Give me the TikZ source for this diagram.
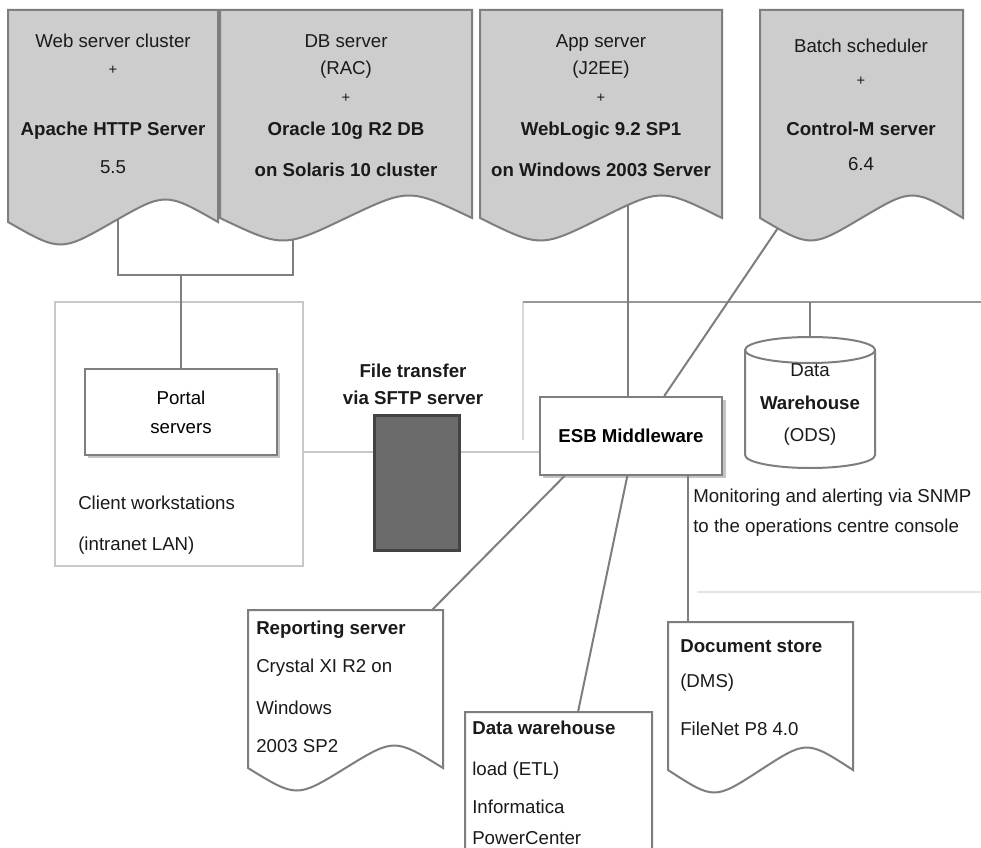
\documentclass[tikz,border=0pt]{standalone}
\usepackage{fontspec}
\setmainfont{Liberation Sans}
\usetikzlibrary{positioning,calc,shadows}
\definecolor{dgInk}     {HTML}{1A1A1A}
\definecolor{dgEdge}    {HTML}{7E7E7E}
\definecolor{dgPaper}   {HTML}{CDCDCD}
\definecolor{dgRack}    {HTML}{6B6B6B}
\definecolor{dgRackEdge}{HTML}{434343}
\definecolor{dgFaint}   {HTML}{C8C8C8}
\definecolor{dgShade}   {HTML}{C4C4C4}

% document sheet with a wavy foot
\newcommand{\wavedoc}[5]{%
  \pgfmathsetmacro{\wdMid}{(#1+#3)/2}%
  \pgfmathsetmacro{\wdLeft}{#1+(#3-#1)/4}%
  \pgfmathsetmacro{\wdRight}{#1+3*(#3-#1)/4}%
  \draw[docedge,fill=#5] (#1,#2) -- (#3,#2) -- (#3,#4)
    .. controls (\wdRight,#4-30) .. (\wdMid,#4)
    .. controls (\wdLeft,#4+30) .. (#1,#4) -- cycle;
}

\begin{document}
\begin{tikzpicture}[x=0.75pt,y=-0.75pt,
    txt/.style={font=\fontsize{14}{16}\selectfont,inner sep=0,text height=10pt,text depth=3pt,text=dgInk},
    txtb/.style={txt,font=\fontsize{14}{16}\selectfont\bfseries},
    txts/.style={txt,font=\fontsize{11}{13}\selectfont},
    docedge/.style={draw=dgEdge,line width=1.5pt},
    wire/.style={draw=dgEdge,line width=1.5pt},
    feed/.style={draw=dgFaint,line width=1.5pt},
    zone/.style={draw=dgFaint,line width=1.5pt,fill=white,minimum width=186pt,minimum height=198pt,inner sep=0},
    shadowbox/.style={draw=dgEdge,line width=1.5pt,fill=white,inner sep=0,
      drop shadow={shadow xshift=2.5pt,shadow yshift=-2.5pt,fill=dgShade,opacity=1}},
    rack/.style={draw=dgRackEdge,fill=dgRack,line width=2pt,inner sep=0,minimum width=63.75pt,minimum height=101.25pt}]

  \fill[white] (0,0) rectangle (981,848);
  \useasboundingbox (0,0) rectangle (981,848);

  % faint frame lines
  \coordinate (busw) at (523,302);
  \coordinate (buse) at (981,302);
  \coordinate (railw) at (697,592);
  \coordinate (raile) at (981,592);
  \draw[feed,draw=dgFaint!70] (busw) -- (523,440);
  \draw[feed,draw=dgFaint!50] (railw) -- (raile);
  \draw[wire,draw=dgEdge!80] (busw) -- (buse);

  % containers and boxes
  \node[zone] (lan) at (179,434) {};
  \node[shadowbox,minimum width=144pt,minimum height=64pt,align=center,
        font=\fontsize{14}{22}\selectfont] (portal) at (181,412) {Portal\\servers};
  \node[rack] (rack) at (417,483) {};
  \node[shadowbox,minimum width=137pt,minimum height=58.5pt,
        font=\fontsize{14}{16}\selectfont\bfseries] (esb) at (631,436) {ESB Middleware};
  \node[inner sep=0,minimum width=97.5pt,minimum height=97.5pt] (dwh) at (810,402) {};

  % connector ends
  \coordinate (d1foot) at (118,205);
  \coordinate (d2foot) at (293,205);
  \coordinate (join)   at (181,275);
  \coordinate (d3foot) at (628,200);
  \coordinate (d4foot) at (782,222);
  \coordinate (feedrow) at (0,452);
  \coordinate (b1tap) at (432,610);
  \coordinate (b2tap) at (578,712);
  \coordinate (b3tap) at (688,622);

  % connectors
  \draw[wire] (d1foot) |- (join) -| (d2foot);
  \draw[wire] (join) -- (portal.north);
  \draw[feed] (lan.east |- feedrow) -- (rack.west |- feedrow);
  \draw[feed] (rack.east |- feedrow) -- (esb.west |- feedrow);
  \draw[wire] (d3foot) -- (d3foot |- esb.north);
  \draw[wire] (d4foot) -- ($(esb.north west)!0.68!(esb.north east)$);
  \draw[wire] (dwh.north) -- (dwh.north |- busw);
  \draw[wire] ($(esb.south west)!0.14!(esb.south east)$) -- (b1tap);
  \draw[wire] ($(esb.south west)!0.48!(esb.south east)$) -- (b2tap);
  \draw[wire] (esb.south -| b3tap) -- (b3tap);

  % sheets
  \wavedoc{8}{10}{218}{222}{dgPaper}
  \wavedoc{220}{10}{472}{218}{dgPaper}
  \wavedoc{480}{10}{722}{218}{dgPaper}
  \wavedoc{760}{10}{963}{218}{dgPaper}
  \wavedoc{248}{610}{443}{768}{white}
  \wavedoc{465}{712}{652}{880}{white}
  \wavedoc{668}{622}{853}{770}{white}

  % data store
  \draw[docedge,fill=white] (745,350) -- (745,455)
    arc[start angle=180,end angle=0,x radius=65,y radius=13] -- (875,350)
    arc[start angle=0,end angle=-180,x radius=65,y radius=13] -- cycle;
  \draw[docedge] (745,350) arc[start angle=180,end angle=0,x radius=65,y radius=13];

  % top sheets text
  \node[txt] (d1a) at (113,43) {Web server cluster};
  \node[txts,below=7pt of d1a] (d1b) {+};
  \node[txtb,below=32pt of d1b] (d1c) {Apache HTTP Server};
  \node[txt,below=15pt of d1c] (d1d) {5.5};

  \node[txt] (d2a) at (346,43) {DB server};
  \node[txt,below=7pt of d2a] (d2b) {(RAC)};
  \node[txts,below=7pt of d2b] (d2c) {+};
  \node[txtb,below=12pt of d2c] (d2d) {Oracle 10g R2 DB};
  \node[txtb,below=17pt of d2d] (d2e) {on Solaris 10 cluster};

  \node[txt] (d3a) at (601,43) {App server};
  \node[txt,below=7pt of d3a] (d3b) {(J2EE)};
  \node[txts,below=7pt of d3b] (d3c) {+};
  \node[txtb,below=12pt of d3c] (d3d) {WebLogic 9.2 SP1};
  \node[txtb,below=17pt of d3d] (d3e) {on Windows 2003 Server};

  \node[txt] (d4a) at (861,48) {Batch scheduler};
  \node[txts,below=11pt of d4a] (d4b) {+};
  \node[txtb,below=24pt of d4b] (d4c) {Control-M server};
  \node[txt,below=13pt of d4c] (d4d) {6.4};

  % middle text
  \node[txt,anchor=west] (lan1) at (78,505) {Client workstations};
  \node[txt,below=17pt of lan1.south west,anchor=north west] (lan2) {(intranet LAN)};
  \node[txtb] (rk1) at (413,373) {File transfer};
  \node[txtb,below=7pt of rk1] (rk2) {via SFTP server};
  \node[txt] (dw1) at (810,372) {Data};
  \node[txtb,below=11pt of dw1] (dw2) {Warehouse};
  \node[txt,below=11pt of dw2] (dw3) {(ODS)};
  \node[txt,anchor=west] (mon1) at (693,498) {Monitoring and alerting via SNMP};
  \node[txt,below=9pt of mon1.south west,anchor=north west] (mon2) {to the operations centre console};

  % bottom sheets text
  \node[txtb,anchor=west] (b1a) at (256,630) {Reporting server};
  \node[txt,below=15pt of b1a.south west,anchor=north west] (b1b) {Crystal XI R2 on};
  \node[txt,below=18pt of b1b.south west,anchor=north west] (b1c) {Windows};
  \node[txt,below=15pt of b1c.south west,anchor=north west] (b1d) {2003 SP2};

  \node[txtb,anchor=west] (b2a) at (472,730) {Data warehouse};
  \node[txt,below=17pt of b2a.south west,anchor=north west] (b2b) {load (ETL)};
  \node[txt,below=15pt of b2b.south west,anchor=north west] (b2c) {Informatica};
  \node[txt,below=10pt of b2c.south west,anchor=north west] (b2d) {PowerCenter};

  \node[txtb,anchor=west] (b3a) at (680,648) {Document store};
  \node[txt,below=13pt of b3a.south west,anchor=north west] (b3b) {(DMS)};
  \node[txt,below=22pt of b3b.south west,anchor=north west] (b3c) {FileNet P8 4.0};
\end{tikzpicture}
\end{document}
